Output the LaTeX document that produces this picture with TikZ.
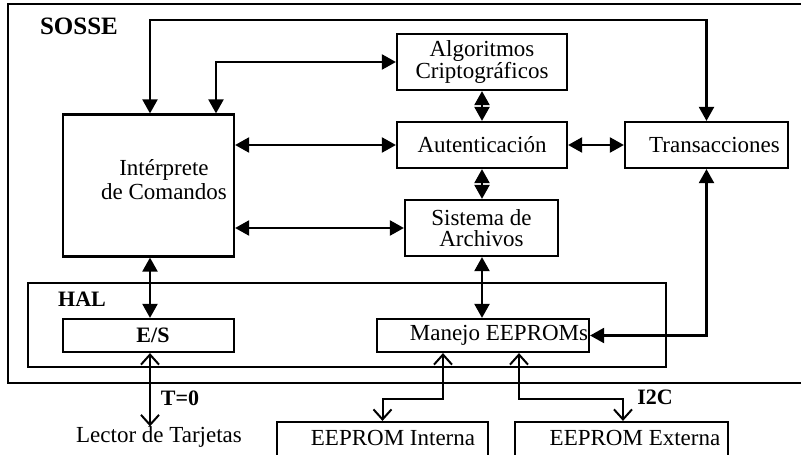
\documentclass[tikz,border=0pt]{standalone}
\usepackage{fontspec}
\setmainfont{Liberation Serif}
\usetikzlibrary{arrows.meta}
\tikzset{
  box/.style={draw, line width=2.2pt, inner sep=0pt, align=center, font=\fontsize{23}{21}\selectfont},
  txt/.style={inner sep=0pt, align=center, font=\fontsize{23}{24}\selectfont},
  btxt/.style={inner sep=0pt, font=\fontsize{22}{22}\selectfont\bfseries},
  frame/.style={draw, line width=2.2pt},
  dbl/.style={line width=2.2pt, {Triangle[length=14pt,width=15pt]}-{Triangle[length=14pt,width=15pt]}},
  obl/.style={line width=2pt, {Straight Barb[length=10pt,width=18pt]}-{Straight Barb[length=10pt,width=18pt]}}
}
\begin{document}
\begin{tikzpicture}[x=1pt,y=-1pt]
\useasboundingbox (0,0) rectangle (801,455);
\fill[white] (0,0) rectangle (801,455);
\clip (0,0) rectangle (801,455);
% outer frames
\draw[frame] (8,4) rectangle (815,383);
\node[btxt, font=\fontsize{25}{25}\selectfont\bfseries] (sosse) at (79,26) {SOSSE};
\draw[frame] (28,283) rectangle (666,367);
\node[btxt] (hal) at (82,299) {HAL};
% boxes
\node[box, minimum width=171pt, minimum height=142pt] (int) at (148.5,185.5) {};
\node[txt] (intlbl) at (164,180) {Intérprete\\de Comandos};
\node[box, minimum width=170pt, minimum height=56pt] (alg) at (482,62) {Algoritmos\\Criptográficos};
\node[box, minimum width=170pt, minimum height=46pt] (aut) at (482,145) {Autenticación};
\node[box, minimum width=163pt, minimum height=46pt] (tra) at (706.5,145) {\hspace*{16pt}Transacciones};
\node[box, minimum width=153pt, minimum height=56pt] (sis) at (481.5,228) {Sistema de\\Archivos};
\node[box, minimum width=171pt, minimum height=33pt] (es) at (148.5,335.5) {};
\node[btxt] (eslbl) at (153,335.5) {E/S};
\node[box, minimum width=212pt, minimum height=33pt] (man) at (483,335.5) {};
\node[txt] (manlbl) at (499,335.5) {Manejo EEPROMs};
\node[txt] (lector) at (159,437) {Lector de Tarjetas};
\node[box, minimum width=211pt, minimum height=36pt] (ein) at (382.5,440) {};
\node[txt] (einlbl) at (393,438) {EEPROM Interna};
\node[box, minimum width=213pt, minimum height=36pt] (eex) at (621.5,440) {};
\node[txt] (eexlbl) at (635,438) {EEPROM Externa};
\node[btxt] (t0) at (180,398) {T=0};
\node[btxt] (i2c) at (655,397) {I2C};
% coordinates for bends
\coordinate (c1) at (150,20);
\coordinate (c2) at (216,62);
\coordinate (m1) at (443,399);
\coordinate (m2) at (519,399);
% connectors
\draw[dbl] (int.north -| c1) -- (c1) -| (tra.north);
\draw[dbl] (int.north -| c2) |- (alg.west);
\draw[dbl] (int.east |- aut.west) -- (aut.west);
\draw[dbl] (int.east |- sis.west) -- (sis.west);
\draw[dbl] (alg.south) -- (aut.north);
\draw[dbl] (aut.east) -- (tra.west);
\draw[dbl] (aut.south) -- (aut.south |- sis.north);
\draw[dbl] (sis.south -| aut.south) -- (aut.south |- man.north);
\draw[dbl] (tra.south) |- (man.east);
\draw[dbl] (int.south -| c1) -- (es.north -| c1);
\draw[obl] (es.south -| c1) -- (c1 |- lector.north);
\draw[obl] (man.south -| m1) -- (m1) -| (ein.north);
\draw[obl] (man.south -| m2) -- (m2) -| ([xshift=1.5pt]eex.north);
\end{tikzpicture}
\end{document}
